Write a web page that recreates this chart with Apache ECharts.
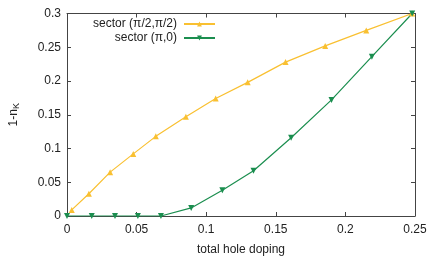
<!DOCTYPE html>
<html>
<head>
<meta charset="utf-8">
<script src="https://cdn.jsdelivr.net/npm/echarts@6/dist/echarts.min.js"></script>
<style>
html,body{margin:0;padding:0;background:#fff;}
#c{width:436px;height:262px;}
</style>
</head>
<body>
<div id="c"></div>
<script>
var xTicks = [0, 0.05, 0.1, 0.15, 0.2, 0.25];
var yTicks = [0, 0.05, 0.1, 0.15, 0.2, 0.25, 0.3];
var seriesNames = ['sector (\u03c0/2,\u03c0/2)', 'sector (\u03c0,0)'];

var dopingA = [0.0034, 0.0157, 0.031, 0.0476, 0.0638, 0.0854, 0.1068, 0.1298, 0.157, 0.1855, 0.215, 0.248];
var valuesA = [0.009, 0.033, 0.065, 0.092, 0.118, 0.147, 0.174, 0.198, 0.228, 0.252, 0.275, 0.3];

var dopingB = [0, 0.0178, 0.0345, 0.0509, 0.0675, 0.0892, 0.1116, 0.134, 0.161, 0.19, 0.219, 0.248];
var valuesB = [0, 0, 0, 0, 0, 0.012, 0.038, 0.067, 0.116, 0.172, 0.236, 0.3];

function pairs(xs, ys) { return xs.map(function (x, i) { return [x, ys[i]]; }); }

var FONT = 'Liberation Sans';
var TXT = '#222';
var AX = '#444';
var colA = '#f9c031';
var colB = '#1b8e4f';

var chart = echarts.init(document.getElementById('c'), null, {renderer: 'canvas'});

function xAx(pos, show) {
  return {
    type: 'value', position: pos, min: xTicks[0], max: xTicks[xTicks.length - 1],
    interval: xTicks[1] - xTicks[0],
    axisLine: {show: true, onZero: false, lineStyle: {color: AX, width: 1}},
    axisTick: {show: true, inside: true, length: 4, lineStyle: {color: AX}},
    axisLabel: {show: show, margin: 8, fontFamily: FONT, fontSize: 12, color: TXT},
    splitLine: {show: false},
    name: show ? 'total hole doping' : '', nameLocation: 'middle', nameGap: 28,
    nameTextStyle: {fontFamily: FONT, fontSize: 12, color: TXT}
  };
}
function yAx(pos, show) {
  return {
    type: 'value', position: pos, min: yTicks[0], max: yTicks[yTicks.length - 1],
    interval: yTicks[1] - yTicks[0],
    axisLine: {show: true, onZero: false, lineStyle: {color: AX, width: 1}},
    axisTick: {show: true, inside: true, length: 4, lineStyle: {color: AX}},
    axisLabel: {show: show, margin: 6, fontFamily: FONT, fontSize: 12, color: TXT},
    splitLine: {show: false},
    name: show ? '1-n{sub|K}' : '', nameLocation: 'middle', nameGap: 46, nameRotate: 90,
    nameTextStyle: {fontFamily: FONT, fontSize: 12, color: TXT,
      rich: {sub: {fontFamily: FONT, fontSize: 9, color: TXT, verticalAlign: 'bottom', padding: [5, 0, 0, 0]}}}
  };
}

function legend(name, top) {
  return {
    data: [name], right: 220, top: top, orient: 'horizontal', align: 'right',
    itemWidth: 31, itemHeight: 6, itemGap: 0, padding: 0,
    textStyle: {fontFamily: FONT, fontSize: 12, color: TXT, lineHeight: 14, padding: [0, 2, 0, 0]},
    selectedMode: false
  };
}

chart.setOption({
  animation: false,
  backgroundColor: '#fff',
  grid: {left: 64, right: 21, top: 13.5, bottom: 46, containLabel: false},
  xAxis: [xAx('bottom', true), xAx('top', false)],
  yAxis: [yAx('left', true), yAx('right', false)],
  legend: [legend(seriesNames[0], 17), legend(seriesNames[1], 31)],
  series: [
    {
      name: seriesNames[0], type: 'line', data: pairs(dopingA, valuesA),
      symbol: 'triangle', symbolSize: 6,
      lineStyle: {color: colA, width: 1.2}, itemStyle: {color: colA}
    },
    {
      name: seriesNames[1], type: 'line', data: pairs(dopingB, valuesB),
      symbol: 'triangle', symbolRotate: 180, symbolSize: 6,
      lineStyle: {color: colB, width: 1.2}, itemStyle: {color: colB}
    }
  ]
});
</script>
</body>
</html>
